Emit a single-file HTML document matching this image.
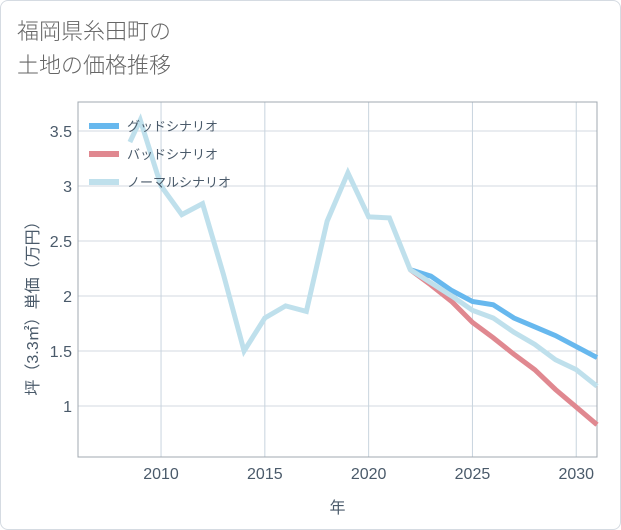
<!DOCTYPE html>
<html><head><meta charset="utf-8"><style>
html,body{margin:0;padding:0;background:#fff;}
body{width:621px;height:530px;overflow:hidden;font-family:"Liberation Sans","Noto Sans CJK JP",sans-serif;}
.card{position:absolute;left:0;top:0;width:619px;height:528px;border:1px solid #d5dbe2;border-radius:8px;background:#fff;}
.title{position:absolute;left:17px;top:15px;font-size:22px;line-height:34px;color:#666;font-weight:300;}
svg{position:absolute;left:0;top:0;}
</style></head><body>
<div class="card"></div>
<div class="title">福岡県糸田町の<br>土地の価格推移</div>
<svg id="chart" width="621" height="530"></svg>
<script>
const normalYears=[2008.5,2009,2010,2011,2012,2013,2014,2015,2016,2017,2018,2019,2020,2021,2022,2023,2024,2025,2026,2027,2028,2029,2030,2031];
const normalValues=[3.4,3.6,3.0,2.74,2.84,2.2,1.5,1.8,1.91,1.86,2.68,3.12,2.72,2.71,2.24,2.12,2.0,1.87,1.8,1.67,1.56,1.42,1.33,1.18];
const forecastYears=[2022,2023,2024,2025,2026,2027,2028,2029,2030,2031];
const goodValues=[2.24,2.18,2.05,1.95,1.92,1.8,1.72,1.64,1.54,1.44];
const badValues=[2.24,2.1,1.95,1.76,1.62,1.47,1.33,1.15,0.99,0.83];
const xTicks=[2010,2015,2020,2025,2030];
const yTicks=[1,1.5,2,2.5,3,3.5];
const yTickLabels=["1","1.5","2","2.5","3","3.5"];
const legendLabels=["グッドシナリオ","バッドシナリオ","ノーマルシナリオ"];

const L=78,R=597,T=102,B=457;
const x0=2006,x1=2031,y0=0.536,y1=3.764;
const sx=v=>L+(v-x0)/(x1-x0)*(R-L);
const sy=v=>B-(v-y0)/(y1-y0)*(B-T);
const svg=document.getElementById('chart');
const NS='http://www.w3.org/2000/svg';
function mk(tag,attrs){const e=document.createElementNS(NS,tag);for(const k in attrs)e.setAttribute(k,attrs[k]);svg.appendChild(e);return e;}

yTicks.forEach((v,i)=>{const l=mk('line',{x1:L,x2:R,y1:sy(v),y2:sy(v),stroke:'#d3dae2','stroke-width':1});


const t=mk('text',{x:L-6,y:sy(v)+6,'text-anchor':'end','font-size':16,fill:'#4a5a6a'});t.textContent=yTickLabels[i];

});
xTicks.forEach(v=>{const l=mk('line',{x1:sx(v),x2:sx(v),y1:T,y2:B,stroke:'#c8d4de','stroke-width':1});


const t=mk('text',{x:sx(v),y:B+22,'text-anchor':'middle','font-size':16,fill:'#4a5a6a'});t.textContent=v;

});
const fr=mk('rect',{x:L,y:T,width:R-L,height:B-T,fill:'none',stroke:'#a0a8b0','stroke-width':1});



function line(xs,vs,color,name){const p=mk('polyline',{points:xs.map((x,i)=>sx(x)+','+sy(vs[i])).join(' '),fill:'none',stroke:color,'stroke-width':5,'stroke-linejoin':'miter'});

}
line(forecastYears,goodValues,'#67b8ee','good-scenario-line');
line(forecastYears,badValues,'#e08890','bad-scenario-line');
line(normalYears,normalValues,'#bfe0ec','normal-scenario-line');

const lc=['#67b8ee','#e08890','#bfe0ec'];
legendLabels.forEach((s,i)=>{const y=126+i*28;
const r=mk('rect',{x:89,y:y-3,width:30,height:6,fill:lc[i]});


const t=mk('text',{x:127,y:y+5,'font-size':13,fill:'#4a5a6a'});t.textContent=s;

});

const xt=mk('text',{x:(L+R)/2,y:513,'text-anchor':'middle','font-size':16,fill:'#4a5a6a'});xt.textContent='年';


const yt=mk('text',{x:0,y:0,'text-anchor':'middle','font-size':16,fill:'#4a5a6a',transform:'translate(38,'+((T+B)/2+25)+') rotate(-90)'});yt.textContent='坪（3.3㎡）単価（万円）';


</script>
</body></html>
